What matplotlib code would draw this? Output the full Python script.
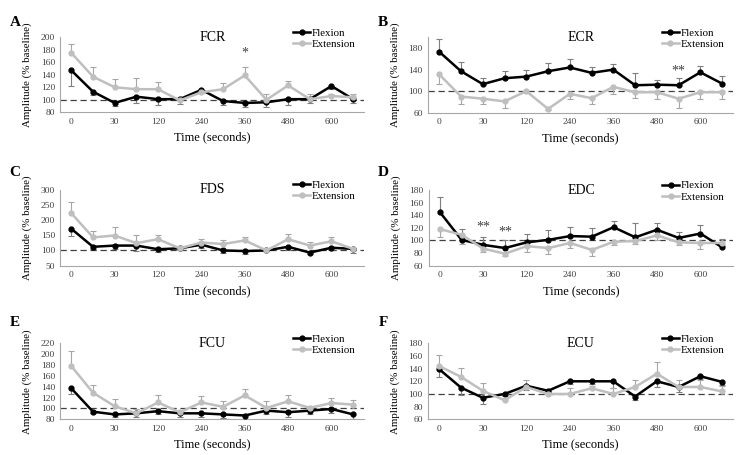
import matplotlib
matplotlib.use("Agg")
import matplotlib.pyplot as plt
import numpy as np

plt.rcParams['font.family'] = ['Liberation Serif', 'DejaVu Serif']

categories = ['0', '15', '30', '60', '120', '180', '240', '300', '360', '420', '480', '540', '600', '660']

# Panel A - FCR
fcr_flex = [147, 113, 95, 105, 101, 101, 116, 98, 95, 96, 101, 101, 122, 101]
fcr_flex_err = [25, 5, 5, 10, 10, 7, 5, 7, 7, 7, 9, 6, 5, 6]
fcr_ext = [175, 137, 120, 117, 117, 99, 112, 117, 139, 100, 123, 101, 106, 104]
fcr_ext_err = [15, 16, 14, 18, 11, 3, 4, 10, 14, 9, 7, 8, 3, 5]

# Panel B - ECR
ecr_flex = [173, 137, 113, 124, 127, 137, 144, 134, 140, 111, 112, 111, 135, 114]
ecr_flex_err = [23, 18, 12, 13, 13, 15, 15, 11, 11, 23, 9, 13, 12, 14]
ecr_ext = [131, 90, 86, 81, 100, 67, 95, 87, 108, 98, 98, 86, 98, 98]
ecr_ext_err = [17, 14, 10, 12, 3, 2, 9, 10, 13, 11, 12, 18, 12, 12]

# Panel C - FDS
fds_flex = [171, 112, 116, 116, 104, 107, 119, 100, 98, 100, 112, 93, 109, 105]
fds_flex_err = [25, 8, 10, 18, 8, 6, 10, 8, 8, 3, 10, 6, 8, 12]
fds_ext = [222, 143, 149, 124, 137, 107, 126, 121, 133, 100, 137, 116, 130, 105]
fds_ext_err = [36, 20, 27, 27, 15, 8, 12, 14, 12, 3, 18, 12, 15, 3]

# Panel D - EDC
edc_flex = [145, 101, 93, 88, 97, 101, 107, 106, 121, 105, 117, 104, 111, 89]
edc_flex_err = [24, 17, 13, 13, 13, 15, 15, 13, 10, 22, 10, 10, 13, 14]
edc_ext = [118, 109, 87, 79, 91, 88, 96, 85, 98, 99, 108, 97, 96, 96]
edc_ext_err = [13, 15, 5, 4, 10, 9, 8, 9, 5, 5, 8, 4, 9, 3]

# Panel E - FCU
fcu_flex = [137, 94, 89, 91, 95, 91, 91, 89, 87, 96, 93, 96, 99, 89]
fcu_flex_err = [11, 3, 5, 6, 6, 6, 6, 6, 6, 6, 8, 6, 7, 9]
fcu_ext = [178, 129, 104, 91, 111, 93, 111, 103, 124, 101, 113, 101, 110, 107]
fcu_ext_err = [27, 15, 14, 8, 13, 4, 12, 11, 11, 13, 11, 3, 10, 9]

# Panel F - ECU
ecu_flex = [139, 110, 94, 100, 113, 105, 120, 120, 120, 96, 120, 111, 128, 119]
ecu_flex_err = [12, 12, 10, 3, 7, 3, 5, 5, 11, 6, 9, 8, 5, 5]
ecu_ext = [144, 127, 105, 90, 111, 100, 100, 109, 100, 111, 132, 111, 111, 104]
ecu_ext_err = [18, 14, 12, 3, 11, 4, 9, 4, 9, 11, 19, 11, 11, 8]

panels = [
    dict(letter='A', title='FCR', flex=fcr_flex, flex_err=fcr_flex_err, ext=fcr_ext, ext_err=fcr_ext_err,
         flex_dir=-1, ylim=(80, 200), ystep=20, stars=[(8, 175, '*')]),
    dict(letter='B', title='ECR', flex=ecr_flex, flex_err=ecr_flex_err, ext=ecr_ext, ext_err=ecr_ext_err,
         flex_dir=1, ylim=(60, 200), ystep=40, stars=[(11, 138, '**')]),
    dict(letter='C', title='FDS', flex=fds_flex, flex_err=fds_flex_err, ext=fds_ext, ext_err=fds_ext_err,
         flex_dir=-1, ylim=(50, 300), ystep=50, stars=[]),
    dict(letter='D', title='EDC', flex=edc_flex, flex_err=edc_flex_err, ext=edc_ext, ext_err=edc_ext_err,
         flex_dir=1, ylim=(60, 180), ystep=20, stars=[(2, 121, '**'), (3, 113, '**')]),
    dict(letter='E', title='FCU', flex=fcu_flex, flex_err=fcu_flex_err, ext=fcu_ext, ext_err=fcu_ext_err,
         flex_dir=-1, ylim=(80, 220), ystep=20, stars=[]),
    dict(letter='F', title='ECU', flex=ecu_flex, flex_err=ecu_flex_err, ext=ecu_ext, ext_err=ecu_ext_err,
         flex_dir=-1, ylim=(60, 180), ystep=20, stars=[]),
]

W, H = 747, 455
fig = plt.figure(figsize=(W / 100, H / 100), dpi=100)

# axes boxes in pixels: (left, top, right, bottom)
boxes = [
    (60.5, 37.3, 364, 112.3),
    (428.4, 37.3, 733, 112.7),
    (60.5, 189.5, 364, 265.7),
    (429, 190, 733, 265.7),
    (60.5, 343.3, 364, 419.3),
    (428.4, 343.3, 733, 419.3),
]
letter_pos = [(15, 23), (383, 23), (15, 173), (383, 173), (15, 323), (383, 323)]

BLACK = '#000000'
GRAY = '#BFBFBF'
AXIS = '#A6A6A6'

x = np.arange(len(categories))

for p, box, lp in zip(panels, boxes, letter_pos):
    l, t, r, b = box
    ax = fig.add_axes([l / W, 1 - b / H, (r - l) / W, (b - t) / H])
    flex = np.array(p['flex'], float)
    ext = np.array(p['ext'], float)
    fe = np.array(p['flex_err'], float)
    ee = np.array(p['ext_err'], float)
    fd = p['flex_dir']
    ed = -fd
    # error bars
    ax.vlines(x, flex, flex + fd * fe, color='#7F7F7F', lw=0.8, zorder=2)
    ax.plot(x, flex + fd * fe, ls='none', marker='_', ms=4.5, mew=0.8, color='#7F7F7F', zorder=2)
    ax.vlines(x, ext, ext + ed * ee, color='#A6A6A6', lw=0.8, zorder=2)
    ax.plot(x, ext + ed * ee, ls='none', marker='_', ms=4.5, mew=0.8, color='#A6A6A6', zorder=2)
    ax.axhline(100, color='#404040', lw=0.9, ls=(0, (5, 3)), zorder=1)
    ax.plot(x, flex, color=BLACK, lw=1.8, marker='o', ms=3.5, label='Flexion', zorder=3)
    ax.plot(x, ext, color=GRAY, lw=1.8, marker='o', ms=3.5, label='Extension', zorder=4)

    ax.set_xlim(-0.5, len(categories) - 0.5)
    ax.set_ylim(*p['ylim'])
    ax.set_yticks(np.arange(p['ylim'][0], p['ylim'][1] + 0.1, p['ystep']))
    ax.set_xticks(x[::2])
    ax.set_xticklabels(categories[::2])
    ax.tick_params(length=0, labelsize=6.8, colors='#404040', pad=4)
    for s in ['top', 'right']:
        ax.spines[s].set_visible(False)
    for s in ['left', 'bottom']:
        ax.spines[s].set_color(AXIS)
        ax.spines[s].set_linewidth(0.8)
    ax.set_xlabel('Time (seconds)', fontsize=9, labelpad=4)
    ax.set_ylabel('Amplitude (% baseline)', fontsize=7.8, labelpad=6)
    ax.text(0.5, 1.0, p['title'], transform=ax.transAxes, ha='center', va='center', fontsize=10)
    for (xi, yv, s) in p['stars']:
        ax.text(xi, yv, s, ha='center', va='center', fontsize=10, color='#404040')
    ax.legend(loc='upper left', bbox_to_anchor=((293 - 60.5) / 303.5, 1.12), frameon=False,
              fontsize=7.8, handlelength=1.6, handletextpad=0.1, labelspacing=0.15,
              borderpad=0, borderaxespad=0)
    fig.text(lp[0] / W, 1 - lp[1] / H, p['letter'], fontsize=11, fontweight='bold', ha='center', va='center')

fig.savefig('out.png', dpi=100)
